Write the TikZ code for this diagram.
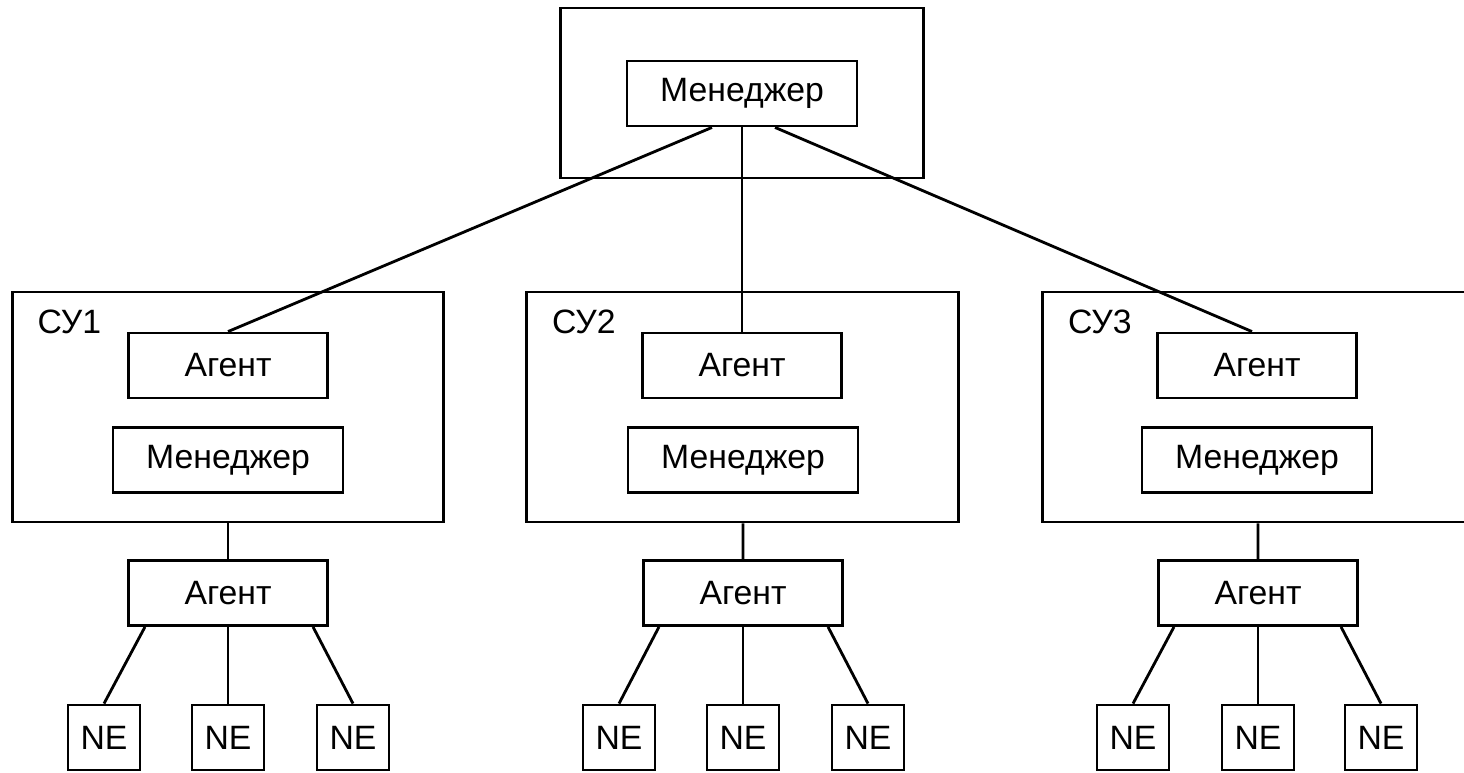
\documentclass[tikz,border=0pt]{standalone}
\usepackage{fontspec}
\setmainfont{Liberation Sans}
\usepackage{tikz}

\begin{document}
\begin{tikzpicture}[
    x=0.01cm, y=-0.01cm,
    every node/.style={font=\fontsize{9.6}{11.5}\selectfont},
    outer/.style={draw, rectangle, line width=0.8pt, minimum width=4.31cm, minimum height=2.30cm},
    agent/.style={draw, rectangle, line width=0.8pt, minimum width=1.99cm, minimum height=0.65cm},
    manager/.style={draw, rectangle, line width=0.8pt, minimum width=2.30cm, minimum height=0.65cm},
    ne/.style={draw, rectangle, line width=0.8pt, minimum width=0.72cm, minimum height=0.65cm},
    link/.style={line width=0.8pt},
]
\useasboundingbox (0,0) rectangle (1464,772);

% Top manager
\node[draw, rectangle, line width=0.8pt, minimum width=3.62cm, minimum height=1.70cm] (Top) at (742,93) {};
\node[manager] (TopM) at (742,93.5) {Менеджер};

% Control systems
\node[outer] (SU1) at (228,407) {};
\node[outer] (SU2) at (742.5,407) {};
\node[outer] (SU3) at (1258.5,407) {};
\node[anchor=west, inner sep=0pt] at ([xshift=0.26cm,yshift=-0.31cm]SU1.north west) {СУ1};
\node[anchor=west, inner sep=0pt] at ([xshift=0.26cm,yshift=-0.31cm]SU2.north west) {СУ2};
\node[anchor=west, inner sep=0pt] at ([xshift=0.26cm,yshift=-0.31cm]SU3.north west) {СУ3};

% Agents and managers inside
\node[agent] (A1) at (228,365.5) {Агент};
\node[manager] (M1) at (228,460) {Менеджер};
\node[agent] (A2) at (742,365.5) {Агент};
\node[manager] (M2) at (743,460) {Менеджер};
\node[agent] (A3) at (1257,365.5) {Агент};
\node[manager] (M3) at (1257,460) {Менеджер};

% Lower agents
\node[agent] (LA1) at (228,593) {Агент};
\node[agent] (LA2) at (743,593) {Агент};
\node[agent] (LA3) at (1258,593) {Агент};

% Network elements
\node[ne] (NE11) at (104,737.5) {NE};
\node[ne] (NE12) at (228,737.5) {NE};
\node[ne] (NE13) at (353,737.5) {NE};
\node[ne] (NE21) at (619,737.5) {NE};
\node[ne] (NE22) at (743,737.5) {NE};
\node[ne] (NE23) at (868,737.5) {NE};
\node[ne] (NE31) at (1133,737.5) {NE};
\node[ne] (NE32) at (1258,737.5) {NE};
\node[ne] (NE33) at (1381,737.5) {NE};

% Top manager to agents
\draw[link] ([xshift=-0.30cm]TopM.south) -- (A1.north);
\draw[link] (TopM.south) -- (A2.north);
\draw[link] ([xshift=0.33cm]TopM.south) -- ([xshift=-0.05cm]A3.north);

% Control systems to lower agents
\draw[link] (SU1.south) -- (LA1.north);
\draw[link] ([xshift=0.005cm]SU2.south) -- (LA2.north);
\draw[link] ([xshift=-0.005cm]SU3.south) -- (LA3.north);

% Lower agents to NE
\draw[link] ([xshift=-0.83cm]LA1.south) -- (NE11.north);
\draw[link] (LA1.south) -- (NE12.north);
\draw[link] ([xshift=0.85cm]LA1.south) -- (NE13.north);
\draw[link] ([xshift=-0.84cm]LA2.south) -- (NE21.north);
\draw[link] (LA2.south) -- (NE22.north);
\draw[link] ([xshift=0.85cm]LA2.south) -- (NE23.north);
\draw[link] ([xshift=-0.84cm]LA3.south) -- (NE31.north);
\draw[link] (LA3.south) -- (NE32.north);
\draw[link] ([xshift=0.83cm]LA3.south) -- (NE33.north);

\end{tikzpicture}
\end{document}
